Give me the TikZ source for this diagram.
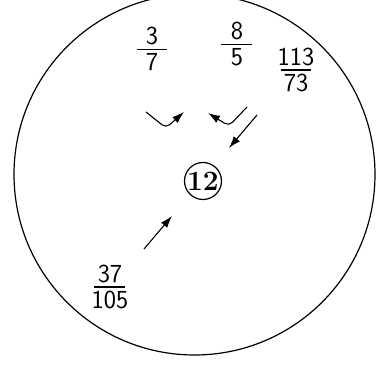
\documentclass[tikz,border=0pt]{standalone}
\usepackage{fontspec}
\usetikzlibrary{arrows.meta}
\newcommand\frc[2]{$\vcenter{\hbox to 31pt{\hss\textsf{#1}\hss}\kern3.5pt
  \hrule height 1.2pt\kern3.5pt\hbox to 31pt{\hss\textsf{#2}\hss}}$}

\begin{document}
\begin{tikzpicture}[x=1pt, y=-1pt,
    frac/.style={inner sep=0pt, font=\fontsize{26}{30}\selectfont},
    ring/.style={circle, draw, line width=1.2pt, inner sep=0pt},
    arrow/.style={-{Latex[length=12pt, width=8pt]}, line width=1.1pt, rounded corners=5pt}
  ]
  \useasboundingbox (0,0) rectangle (376,369);
  \node[ring, minimum size=361pt] (disk) at (194.5,174.5) {};

  % fractions
  \node[frac] (f37)  at (152,49)  {\frc{3}{7}};
  \node[frac] (f85)  at (237,44)  {\frc{8}{5}};
  \node[frac] (f113) at (296,70)  {\frc{113}{73}};
  \node[frac] (f105) at (110,287) {\frc{37}{105}};

  % centre
  \node[ring, minimum size=37pt, font=\fontsize{28}{30}\selectfont\bfseries] (mid) at (203,181) {12};

  % arrows
  \coordinate (a1s) at (146,112);
  \coordinate (a1c) at (166,128);
  \coordinate (a1e) at (184,112);
  \coordinate (a2s) at (247,107);
  \coordinate (a2c) at (229,126);
  \coordinate (a2e) at (208,113);
  \coordinate (a3s) at (257,115);
  \coordinate (a3e) at (229,148);
  \coordinate (a4s) at (144,249);
  \coordinate (a4e) at (172,216);

  \draw[arrow] (a1s) -- (a1c) -- (a1e);
  \draw[arrow] (a2s) -- (a2c) -- (a2e);
  \draw[arrow] (a3s) -- (a3e);
  \draw[arrow] (a4s) -- (a4e);
\end{tikzpicture}
\end{document}
